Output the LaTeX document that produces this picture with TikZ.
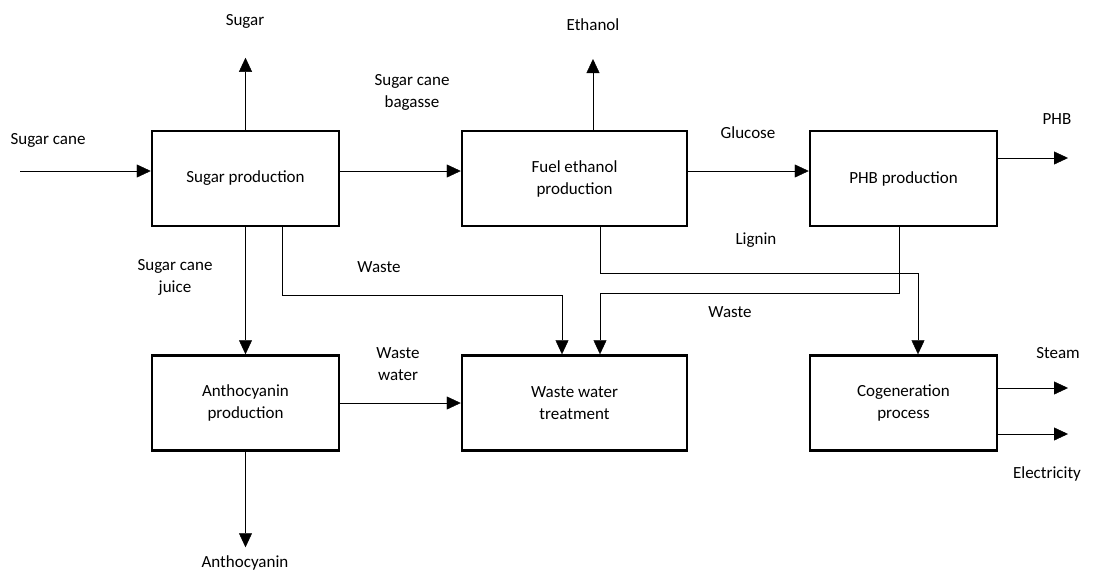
\documentclass[tikz,border=0pt]{standalone}
\usepackage{fontspec}
\setmainfont{Carlito}
\usetikzlibrary{positioning, arrows.meta}
\tikzset{
-{Triangle[length=14pt,width=13pt]}, % filled arrow heads on every flow
line width=2pt,
node distance=329pt, % centre to centre of two columns
every node/.style={font=\fontsize{17}{22}\selectfont, align=center},
process/.style={draw, line width=2.5pt, minimum width=187pt, minimum height=95pt, inner sep=0pt},
wide/.style={minimum width=225pt},
}
\begin{document}
\begin{tikzpicture}
                \useasboundingbox (0,0) rectangle (1120pt,-576pt);
                % process boxes
                \node[process] (sp) at (245.5pt,-178.5pt) {Sugar production};
                \node[process, wide, right of=sp] (fe) {Fuel ethanol\\production};
                \node[process, right of=fe] (phb) {PHB production};
                \node[process, node distance=224.5pt, below of=sp] (ap) {Anthocyanin\\production};
                \node[process, wide, right of=ap] (wwt) {Waste water\\treatment};
                \node[process, right of=wwt] (cg) {Cogeneration\\process};
                % stream labels
                \node (lcane) at (48pt,-140pt) {Sugar cane};
                \node (lsugar) at (245pt,-21pt) {Sugar};
                \node (lbagasse) at (412pt,-92pt) {Sugar cane\\bagasse};
                \node (lethanol) at (593pt,-25pt) {Ethanol};
                \node (lglucose) at (748pt,-133pt) {Glucose};
                \node (lphb) at (1057pt,-119pt) {PHB};
                \node (llignin) at (756pt,-240pt) {Lignin};
                \node (ljuice) at (175pt,-277pt) {Sugar cane\\juice};
                \node (lwaste1) at (379pt,-267pt) {Waste};
                \node (lwaste2) at (730pt,-312pt) {Waste};
                \node (lwater) at (398pt,-364pt) {Waste\\water};
                \node (lsteam) at (1058pt,-353pt) {Steam};
                \node (lelec) at (1047pt,-474pt) {Electricity};
                \node (lanth) at (245pt,-563pt) {Anthocyanin};
                % free ends and bends
                \coordinate (cane) at (20pt,-171pt);
                \coordinate (sugarout) at ([yshift=72pt]sp.north);
                \coordinate (ethout) at (593pt,-59pt);
                \coordinate (phbout) at (1068pt,-158pt);
                \coordinate (lig) at (918pt,-273pt);
                \coordinate (phbw) at (899pt,-293pt);
                \coordinate (spw) at (282pt,-295pt);
                \coordinate (anthout) at ([yshift=-95.5pt]ap.south);
                \coordinate (steamout) at (1068pt,-388pt);
                \coordinate (elecout) at (1068pt,-434pt);
                % flows
                \draw (cane) -- (cane -| sp.west);
                \draw (sp.north) -- (sugarout);
                \draw ([yshift=7.5pt]sp.east) -- ([yshift=7.5pt]fe.west);
                \draw (ethout |- fe.north) -- (ethout);
                \draw ([yshift=7.5pt]fe.east) -- ([yshift=7.5pt]phb.west);
                \draw (phbout -| phb.east) -- (phbout);
                \draw ([xshift=25.5pt]fe.south) |- (lig) -- (lig |- cg.north);
                \draw (phbw |- phb.south) -- (phbw) -| ([xshift=25.5pt]wwt.north);
                \draw (spw |- sp.south) -- (spw) -| ([xshift=-12.5pt]wwt.north);
                \draw (sp.south) -- (ap.north);
                \draw (ap.east) -- (wwt.west);
                \draw (ap.south) -- (anthout);
                \draw (steamout -| cg.east) -- (steamout);
                \draw (elecout -| cg.east) -- (elecout);
                \end{tikzpicture}
\end{document}
